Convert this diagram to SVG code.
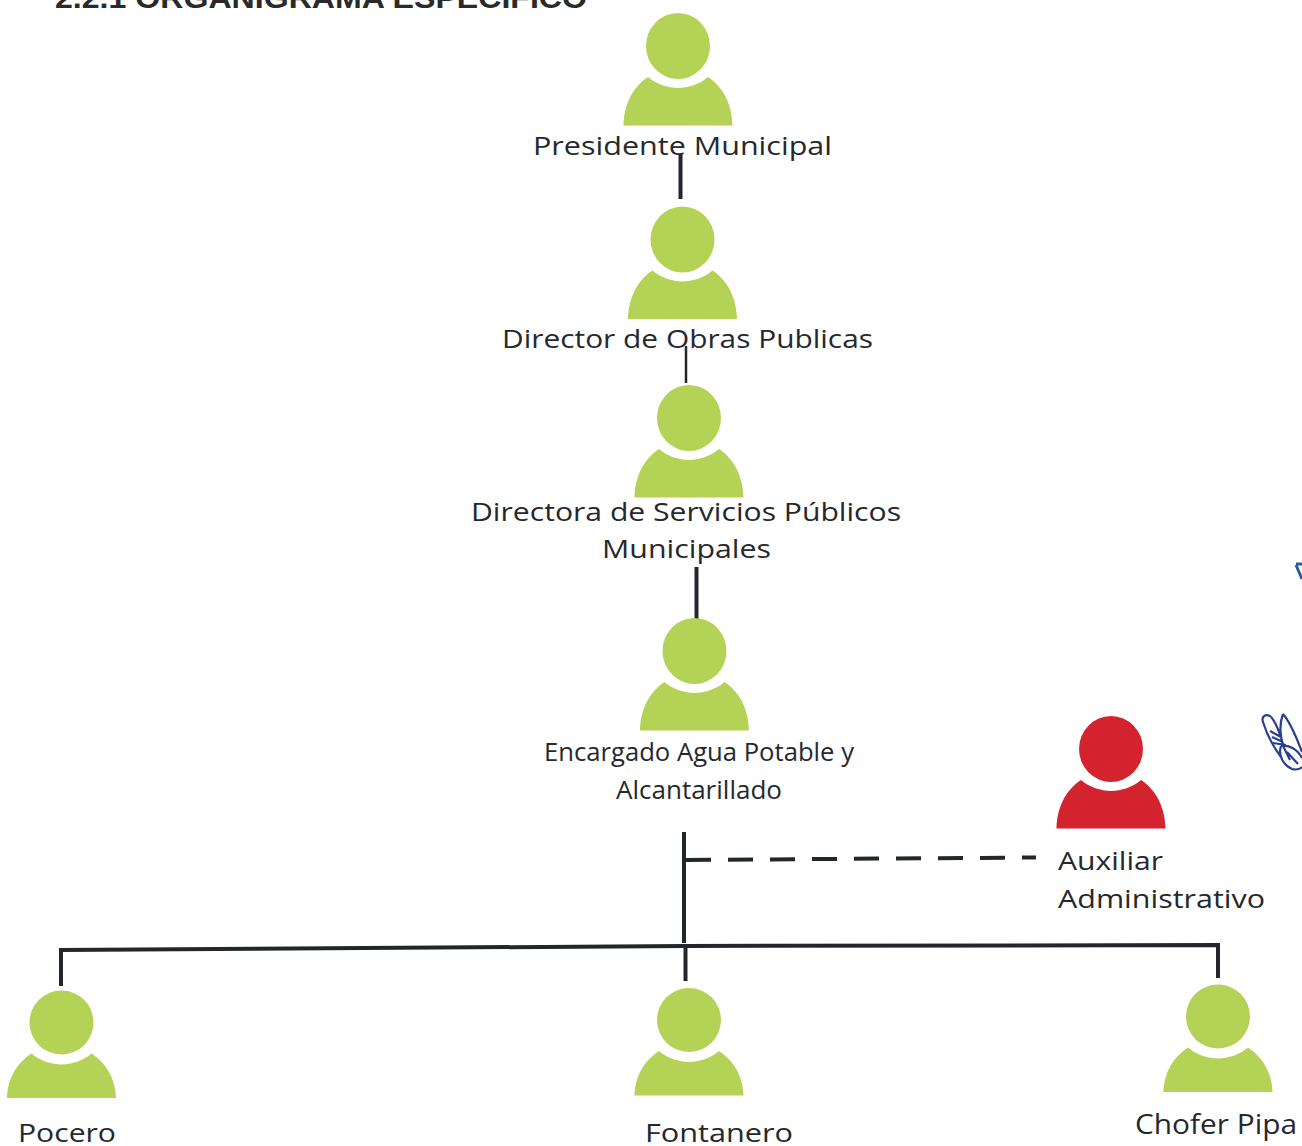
<svg xmlns="http://www.w3.org/2000/svg" width="1302" height="1146" viewBox="0 0 1302 1146">
<style>
text{font-family:"Open Sans","Noto Sans",sans-serif;font-size:26px;font-weight:500;fill:#25292d}
.t{font-family:"Liberation Sans",Arial,sans-serif;font-weight:bold;font-size:29px;fill:#2a2a2a}
.g{fill:#b4d255}.r{fill:#d3232f}
.c{fill:none;stroke:#23272b;stroke-width:4}
.n{fill:none;stroke:#23272b;stroke-width:2.500}
.d{fill:none;stroke:#23272b;stroke-width:4;stroke-dasharray:25 17}
.s{fill:none;stroke:#2c3f8f;stroke-width:2.200}
</style>
<defs>
<g id="p">
<ellipse cx="0" cy="0" rx="32" ry="33"/>
<path d="M-54.500 79.500C-54 62-48 43-30 31C-22 38-10 42 0 42C10 42 22 38 30 31C48 43 54 62 54.500 79.500Z"/>
</g>
<g id="q">
<ellipse cx="0" cy="0" rx="32" ry="32"/>
<path d="M-54.500 75.500C-54 60-48 43-30 31C-22 38-10 42 0 42C10 42 22 38 30 31C48 43 54 60 54.500 75.500Z"/>
</g>
</defs>
<rect width="1302" height="1146" fill="#fff"/>
<text class="t" x="55" y="8" textLength="532" lengthAdjust="spacingAndGlyphs">2.2.1 ORGANIGRAMA ESPECIFICO</text>
<g id="connectors">
<path class="c" d="M680.500 154V199"/>
<path class="n" d="M686 346V383"/>
<path class="c" d="M696.500 567V619"/>
<path class="c" d="M684 832V943"/>
<path class="d" d="M686 860L1036 857.500"/>
<path class="c" d="M61 986V950L685 946L1218 945V978"/>
<path class="c" d="M685.500 946V981"/>
</g>
<g id="presidente"><use href="#p" class="g" x="678" y="46"/><text x="533" y="155" textLength="299" lengthAdjust="spacingAndGlyphs">Presidente Municipal</text></g>
<g id="director-obras"><use href="#p" class="g" x="682.500" y="239.500"/><text x="502" y="348" textLength="371" lengthAdjust="spacingAndGlyphs">Director de Obras Publicas</text></g>
<g id="directora-servicios"><use href="#p" class="g" x="689" y="418"/><text x="471" y="521" textLength="430" lengthAdjust="spacingAndGlyphs">Directora de Servicios Públicos</text><text x="602" y="558" textLength="169" lengthAdjust="spacingAndGlyphs">Municipales</text></g>
<g id="encargado"><use href="#p" class="g" x="694.500" y="651"/><text x="544" y="761" textLength="310" lengthAdjust="spacingAndGlyphs" style="font-size:26px">Encargado Agua Potable y</text><text x="616" y="799" textLength="166" lengthAdjust="spacingAndGlyphs" style="font-size:26px">Alcantarillado</text></g>
<g id="auxiliar"><use href="#p" class="r" x="1111" y="749"/><text x="1058" y="870" textLength="105" lengthAdjust="spacingAndGlyphs">Auxiliar</text><text x="1058" y="908" textLength="207" lengthAdjust="spacingAndGlyphs">Administrativo</text></g>
<g id="pocero"><use href="#q" class="g" x="61.500" y="1022.500"/><text x="18" y="1142" textLength="98" lengthAdjust="spacingAndGlyphs" style="font-size:25px">Pocero</text></g>
<g id="fontanero"><use href="#q" class="g" x="689" y="1020"/><text x="645" y="1142" textLength="148" lengthAdjust="spacingAndGlyphs" style="font-size:25px">Fontanero</text></g>
<g id="chofer"><use href="#q" class="g" x="1218" y="1016.500"/><text x="1135" y="1134" textLength="162" lengthAdjust="spacingAndGlyphs" style="font-size:28px">Chofer Pipa</text></g>
<path class="s" style="stroke-width:3;stroke:#2a5a9c" d="M1296 564H1302M1296 565L1302 579"/>
<path class="s" d="M1263 722C1261 716 1266 714 1270 716C1275 720 1281 735 1284 748L1290 760M1263 722C1266 732 1272 745 1281 757M1283 714C1279 724 1280 738 1284 748M1283 714C1290 722 1296 736 1302 752M1270 731L1281 737M1272 737L1283 742M1273 743L1286 745M1281 746C1278 755 1283 765 1292 769C1296 770 1300 769 1302 767M1281 746C1289 744 1298 750 1302 758M1287 752L1298 764"/>
</svg>
